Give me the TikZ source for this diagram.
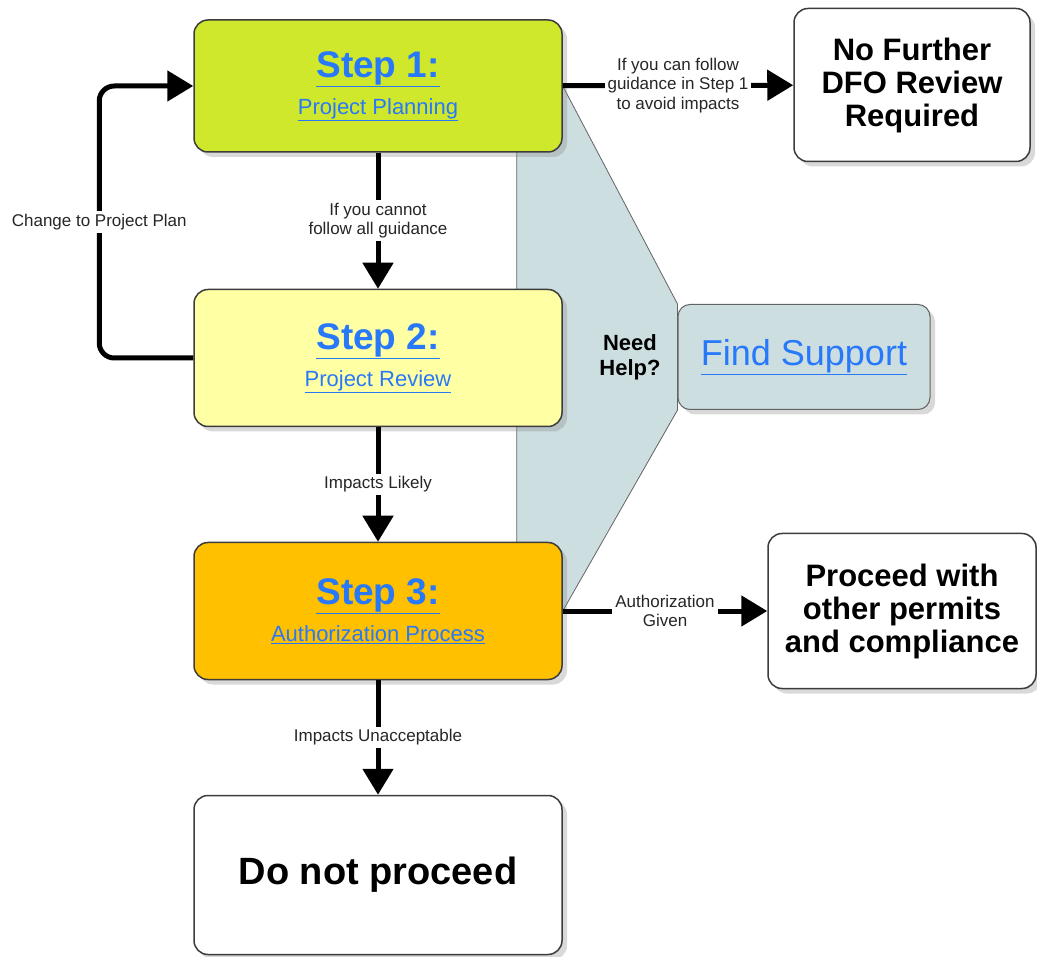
\documentclass[tikz,border=0pt]{standalone}
\usepackage{fontspec}
\setmainfont{Liberation Sans}
\usetikzlibrary{shapes.geometric, arrows.meta, shadows, backgrounds}
\definecolor{steplime}{RGB}{208,232,44}
\definecolor{stepyellow}{RGB}{255,255,163}
\definecolor{steporange}{RGB}{255,192,0}
\definecolor{supportgrey}{RGB}{204,222,224}
\definecolor{linkblue}{RGB}{40,120,250}
\definecolor{edgegrey}{RGB}{60,60,60}
\tikzstyle{stepbox} = [rectangle, rounded corners=14pt, minimum width=368pt, minimum height=137pt, text centered, align=center, draw=edgegrey, line width=1.5pt, drop shadow={shadow xshift=5pt, shadow yshift=-5pt, opacity=0.3}, text=linkblue, font=\fontsize{22}{26}\selectfont]
\tikzstyle{outcome} = [rectangle, rounded corners=14pt, text centered, align=center, fill=white, draw=edgegrey, line width=1.5pt, drop shadow={shadow xshift=5pt, shadow yshift=-5pt, opacity=0.3}, font=\bfseries\fontsize{31}{33}\selectfont]
\tikzstyle{support} = [rectangle, rounded corners=12pt, minimum width=252pt, minimum height=105pt, text centered, fill=supportgrey, draw=edgegrey!80, line width=1pt, drop shadow={shadow xshift=5pt, shadow yshift=-5pt, opacity=0.3}, text=linkblue, font=\fontsize{36}{40}\selectfont]
\tikzstyle{note} = [fill=white, align=center, inner sep=3pt, text=black!85, font=\fontsize{17}{19.5}\selectfont]
\tikzstyle{arrow} = [line width=5pt, -{Triangle[length=26pt,width=30pt]}]

\begin{document}
\begin{tikzpicture}[x=1pt, y=-1pt]
    \useasboundingbox (0,0) rectangle (1037,957);
    \node [stepbox, fill=steplime, minimum height=132pt] at (378,86) (step1) {{\fontsize{37}{40}\selectfont\bfseries\underline{Step 1:}}\\[11pt]\underline{Project Planning}};
    \node [stepbox, fill=stepyellow] at (378,358) (step2) {{\fontsize{37}{40}\selectfont\bfseries\underline{Step 2:}}\\[11pt]\underline{Project Review}};
    \node [stepbox, fill=steporange] at (378,611) (step3) {{\fontsize{37}{40}\selectfont\bfseries\underline{Step 3:}}\\[11pt]\underline{Authorization Process}};
    \node [outcome, minimum width=368pt, minimum height=159pt, font=\bfseries\fontsize{38}{40}\selectfont] at (378,875) (stop) {Do not proceed};
    \node [outcome, minimum width=236pt, minimum height=153pt] at (912,85) (nofurther) {No Further\\DFO Review\\Required};
    \node [outcome, minimum width=268pt, minimum height=155pt] at (902,611) (proceed) {Proceed with\\other permits\\and compliance};
    \node [support] at (804,357) (help) {\underline{Find Support}};
    \node [align=center, font=\bfseries\fontsize{22}{25}\selectfont] at (630,357) (needhelp) {Need\\Help?};
    % help funnel
    \begin{scope}[on background layer]
    \draw [fill=supportgrey, draw=edgegrey!80, line width=0.8pt] ([xshift=-46pt]step1.east) -- (step1.east) -- (help.north west) -- (help.south west) -- (step3.east) -- ([xshift=-46pt]step3.east) -- cycle;
    \end{scope}
    \draw [arrow] (step1) -- node[note] {If you can follow\\guidance in Step 1\\to avoid impacts} (nofurther);
    \draw [arrow] (step1) -- node[note] {If you cannot\\follow all guidance} (step2);
    \draw [arrow, rounded corners=15pt] (step2.west) -| node[note, pos=0.75] {Change to Project Plan} ([xshift=-94pt]step1.west) -- (step1.west);
    \draw [arrow] (step2) -- node[note] {Impacts Likely} (step3);
    \draw [arrow] (step3) -- node[note] {Authorization\\Given} (proceed);
    \draw [arrow] (step3) -- node[note] {Impacts Unacceptable} (stop);
\end{tikzpicture}
\end{document}
